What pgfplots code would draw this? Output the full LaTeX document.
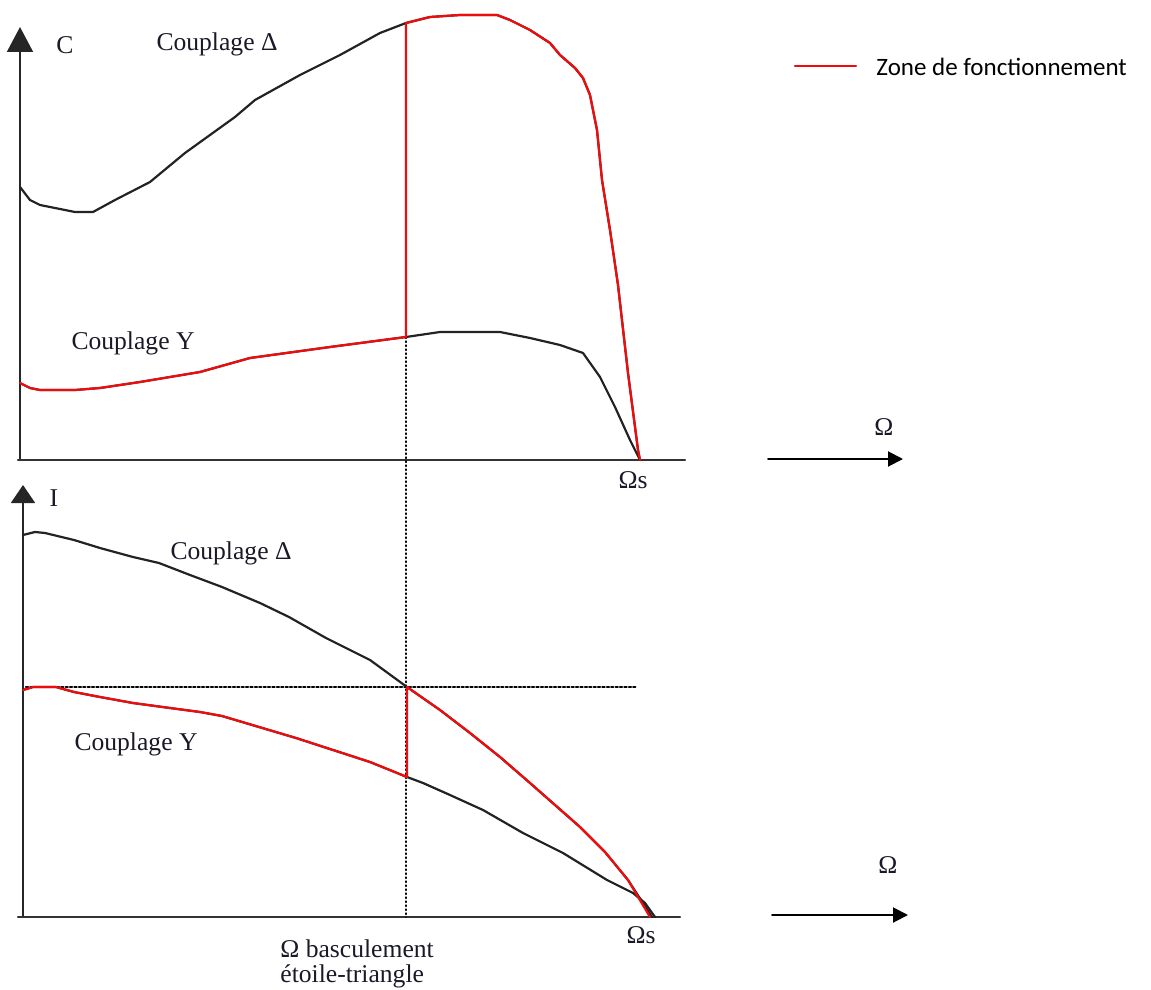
\documentclass[border=0pt]{standalone}
\usepackage{fontspec}
\setmainfont{Liberation Serif}
\newfontfamily\calibri{Carlito}
\usepackage{pgfplots}
\pgfplotsset{compat=1.18}
\usetikzlibrary{arrows.meta}
\definecolor{cblack}{RGB}{35,35,35}
\definecolor{cred}{RGB}{240,12,12}
\definecolor{ctext}{RGB}{25,25,40}
\tikzset{lbl/.style={font=\fontsize{12.8}{15}\selectfont, text=ctext, inner sep=0pt}}
\begin{document}
\begin{tikzpicture}
\begin{axis}[
  scale only axis, width=575.5pt, height=495pt,
  xmin=0, xmax=1151, ymin=0, ymax=990, y dir=reverse,
  hide axis, clip=false,
  every axis plot/.append style={line join=round, line cap=round},
]
% bounding box
\addplot[draw=none] coordinates {(0,0) (1151,990)};

% ---- axes (top panel) ----
\addplot[black!85, line width=1pt, -{Triangle[length=12.5pt,width=13pt]}] coordinates {(20,460) (20,27)};
\addplot[black!80, line width=1.1pt] coordinates {(18,460) (685,460)};
% ---- axes (bottom panel) ----
\addplot[black!85, line width=1pt, -{Triangle[length=9pt,width=12pt]}] coordinates {(23,917) (23,485)};
\addplot[black!80, line width=1.1pt] coordinates {(18,917) (680,917)};
% ---- Omega arrows at right ----
\addplot[black, line width=1pt, -{Triangle[length=7.5pt,width=7.5pt]}] coordinates {(768,459) (903,459)};
\addplot[black, line width=1pt, -{Triangle[length=7.5pt,width=7.5pt]}] coordinates {(772,915) (908,915)};

% ---- dotted guide lines ----
\addplot[black, line width=0.6pt, dash pattern=on 0.7pt off 1.3pt] coordinates {(406,337) (406,917)};
\addplot[black, line width=1.1pt, dash pattern=on 1.1pt off 1.1pt] coordinates {(26,687) (637,687)};

% ---- torque, delta coupling ----
\addplot[cblack, line width=1.1pt] coordinates {
(20,187) (30,200) (40,205) (60,209) (75,212) (93,212) (115,200) (150,182) (185,153) (235,117) (255,100) (300,75) (340,55) (380,33) (406,23) (430,17) (460,15) (497,15) (510,20) (530,30) (550,43) (560,55) (575,68) (583,78) (590,95) (597,130) (602,180) (610,230) (618,285) (628,373) (638,450) (640,460)};
% ---- torque, Y coupling ----
\addplot[cblack, line width=1.1pt] coordinates {
(20,383) (30,388) (40,390) (75,390) (100,388) (140,382) (200,372) (250,358) (330,347) (406,337) (440,332) (500,332) (530,338) (560,345) (583,353) (600,377) (615,407) (630,440) (640,460)};
% ---- current, delta coupling ----
\addplot[cblack, line width=1.1pt] coordinates {
(23,535) (35,532) (45,533) (74,540) (100,548) (133,557) (159,563) (190,575) (222,587) (260,603) (289,617) (326,638) (370,660) (407,687) (440,710) (470,733) (500,757) (530,783) (555,805) (580,827) (605,852) (628,880) (652,917)};
% ---- current, Y coupling ----
\addplot[cblack, line width=1.1pt] coordinates {
(23,690) (33,687) (56,687) (74,692) (100,697) (133,703) (170,708) (200,712) (222,716) (259,727) (296,738) (333,750) (370,762) (407,777) (423,783) (450,795) (483,810) (523,833) (563,853) (607,880) (633,893) (645,903) (655,917)};

% ---- operating zone (red) ----
\addplot[cred, line width=1.1pt] coordinates {
(20,383) (30,388) (40,390) (75,390) (100,388) (140,382) (200,372) (250,358) (330,347) (406,337) (406,23) (430,17) (460,15) (497,15) (510,20) (530,30) (550,43) (560,55) (575,68) (583,78) (590,95) (597,130) (602,180) (610,230) (618,285) (628,373) (638,450) (640,460)};
\addplot[cred, line width=1.1pt] coordinates {
(23,690) (33,687) (56,687) (74,692) (100,697) (133,703) (170,708) (200,712) (222,716) (259,727) (296,738) (333,750) (370,762) (407,777) (407,687) (440,710) (470,733) (500,757) (530,783) (555,805) (580,827) (605,852) (628,880) (650,917)};

% ---- legend ----
\addplot[cred, line width=1.1pt] coordinates {(795,66) (856,66)};
\node[anchor=west, inner sep=0pt, font=\calibri\fontsize{12.5}{15}\selectfont, text=black] at (axis cs:876,67) {Zone de fonctionnement};

% ---- labels ----
\node[lbl] at (axis cs:65,45) {C};
\node[lbl] at (axis cs:217,44) {Couplage Δ};
\node[lbl] at (axis cs:133,343) {Couplage Y};
\node[lbl] at (axis cs:633,480) {Ωs};
\node[lbl] at (axis cs:884,427) {Ω};
\node[lbl] at (axis cs:54,498) {I};
\node[lbl] at (axis cs:231,553) {Couplage Δ};
\node[lbl] at (axis cs:136,744) {Couplage Y};
\node[lbl] at (axis cs:641,935) {Ωs};
\node[lbl] at (axis cs:888,865) {Ω};
\node[lbl, anchor=west] at (axis cs:280,949) {Ω basculement};
\node[lbl, anchor=west] at (axis cs:280,976) {étoile-triangle};
\end{axis}
\end{tikzpicture}
\end{document}
